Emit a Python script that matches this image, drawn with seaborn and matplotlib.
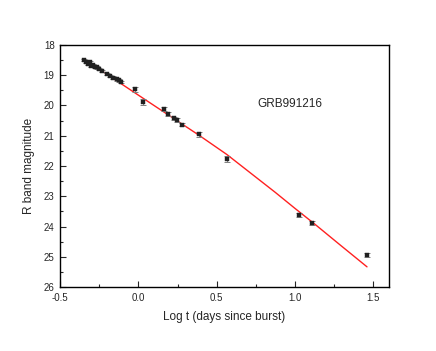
import matplotlib
matplotlib.use("Agg")
import matplotlib.pyplot as plt
import seaborn as sns
from matplotlib.ticker import MultipleLocator

sns.set_style("ticks")
plt.rcParams["font.family"] = ["Liberation Sans", "DejaVu Sans"]

# observed R band light curve of GRB991216
log_t = [-0.35, -0.335, -0.32, -0.31, -0.30, -0.29, -0.28, -0.265, -0.25, -0.23,
         -0.20, -0.18, -0.16, -0.14, -0.125, -0.11,
         -0.02, 0.032, 0.166, 0.186, 0.224, 0.246, 0.281, 0.386, 0.565,
         1.025, 1.108, 1.458]
r_mag = [18.50, 18.55, 18.62, 18.58, 18.68, 18.66, 18.72, 18.74, 18.80, 18.86,
         18.96, 19.02, 19.08, 19.14, 19.17, 19.23,
         19.47, 19.90, 20.12, 20.28, 20.42, 20.48, 20.63, 20.95, 21.76,
         23.62, 23.88, 24.94]
r_err = [0.04, 0.04, 0.04, 0.04, 0.04, 0.04, 0.04, 0.04, 0.04, 0.04,
         0.04, 0.04, 0.04, 0.04, 0.04, 0.04,
         0.08, 0.10, 0.06, 0.06, 0.05, 0.05, 0.05, 0.08, 0.10,
         0.06, 0.07, 0.06]

# model curve
model_t = [-0.35, 0.0, 0.386, 0.565, 0.874, 1.0, 1.129, 1.289, 1.46]
model_mag = [18.46, 19.66, 20.98, 21.62, 22.87, 23.40, 23.93, 24.61, 25.33]

fig = plt.figure(figsize=(4.36, 3.51), dpi=100)
ax = fig.add_axes([0.138, 0.182, 0.754, 0.690])

sns.lineplot(x=model_t, y=model_mag, ax=ax, color="#ff2020", linewidth=1.0,
             sort=False, estimator=None)
ax.errorbar(log_t, r_mag, yerr=r_err, fmt="none", ecolor="#808080",
            elinewidth=0.7, capsize=2, capthick=0.7, zorder=3)
sns.scatterplot(x=log_t, y=r_mag, ax=ax, color="#202020", marker="s", s=8,
                edgecolor="#202020", linewidth=0.3, zorder=4)

ax.set_xlim(-0.5, 1.6)
ax.set_ylim(26, 18)
ax.xaxis.set_minor_locator(MultipleLocator(0.25))
ax.yaxis.set_major_locator(MultipleLocator(1))
ax.yaxis.set_minor_locator(MultipleLocator(0.5))
ax.set_xticks([-0.5, 0.0, 0.5, 1.0, 1.5])
ax.set_xticklabels(["-0.5", "0.0", "0.5", "1.0", "1.5"])

ax.tick_params(which="both", direction="in", labelsize=7, width=0.8, pad=4)
ax.tick_params(which="major", length=4)
ax.tick_params(which="minor", length=2)
for side in ax.spines.values():
    side.set_linewidth(1.0)
    side.set_color("black")

ax.set_xlabel("Log t (days since burst)", fontsize=8.5, labelpad=6)
ax.set_ylabel("R band magnitude", fontsize=8.5, labelpad=6)
ax.text(0.76, 19.95, "GRB991216", fontsize=8.5, va="center", ha="left")

fig.savefig("out.png", dpi=100)
